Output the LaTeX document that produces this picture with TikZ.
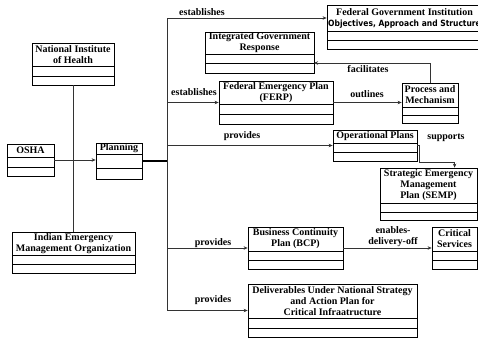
\documentclass[tikz,border=0pt]{standalone}
\usepackage{fontspec}
\setmainfont{Liberation Serif}
\newfontfamily\sansb{DejaVu Sans}[FakeStretch=0.88]
\usetikzlibrary{arrows.meta,calc,fit}
\tikzset{
  boxo/.style={draw=black, line width=0.8pt, inner sep=0pt},
  cline/.style={draw=black, line width=0.8pt},
  ttl/.style={font=\bfseries\fontsize{10}{11}\selectfont, align=center, inner sep=0pt},
  lbl/.style={font=\bfseries\fontsize{10}{11}\selectfont, align=center, inner sep=0pt},
  conn/.style={draw=black!80, line width=0.6pt},
  arr/.style={conn, -{Stealth[length=4pt,width=3.5pt]}},
}
\newcommand\ubox[8]{%
  \coordinate (#1-nw) at (#2,#3);
  \coordinate (#1-se) at (#4,#5);
  \node[boxo, fit=(#1-nw)(#1-se)] (#1) {};
  \draw[cline] (#2,#6) -- (#4,#6);
  \draw[cline] (#2,#7) -- (#4,#7) coordinate (#1-be);
  \node[ttl] (#1-t) at ($(#1-nw)!.5!(#4,#6)$) {#8};
}
\begin{document}
\begin{tikzpicture}[x=1pt,y=-1pt]
\useasboundingbox (0,0) rectangle (478,338);
\clip (0,0) rectangle (478,338);
\ubox{nih}{32}{43}{114}{85}{66}{76}{National Institute\\of Health}
\ubox{osha}{7}{144}{54}{176}{157}{167}{OSHA}
\ubox{plan}{96}{143}{142}{179}{154}{168}{Planning}
\ubox{iemo}{12}{232}{135}{273}{255}{264}{Indian Emergency\\Management Organization}
\ubox{fgi}{327}{5}{482}{49}{31}{40}{Federal Government Institution\\{\sansb\bfseries\fontsize{8.6}{11}\selectfont Objectives, Approach and Structure}}
\ubox{igr}{205}{32}{314}{73}{54}{63}{Integrated Government\\Response}
\ubox{ferp}{219}{81}{333}{124}{104}{114}{Federal Emergency Plan\\(FERP)}
\ubox{proc}{402}{83}{458}{123}{107}{115}{Process and\\Mechanism}
\ubox{op}{333}{130}{417}{161}{143}{152}{Operational Plans}
\ubox{semp}{380}{168}{477}{220}{203}{212}{Strategic Emergency\\Management\\Plan (SEMP)}
\ubox{bcp}{248}{227}{343}{269}{251}{260}{Business Continuity\\Plan (BCP)}
\ubox{crit}{432}{227}{477}{269}{251}{260}{Critical\\Services}
\ubox{del}{248}{284}{417}{337}{318}{328}{Deliverables Under National Strategy\\and Action Plan for\\Critical Infraatructure}

\draw[conn] (nih.south) -- (nih.south |- iemo.north);
\draw[arr] (osha.east) -- (osha.east -| plan.west);
\coordinate (tr) at (167,161);
\draw[line width=1.5pt] (plan.east) -- (plan.east -| tr);
\coordinate (ttop) at (tr |- fgi-t.west);
\coordinate (tbot) at (tr |- del.west);
\draw[conn] (ttop) -- (tbot);
\draw[arr] (ttop) -- (fgi.west |- ttop);
\draw[arr] (tr |- ferp.west) -- (ferp.west);
\draw[arr] (tr |- op.west) -- (op.west);
\draw[arr] (tr |- bcp.west) -- (bcp.west);
\draw[arr] (tbot) -- (del.west);
\draw[arr] (ferp.east) -- (ferp.east -| proc.west);
\draw[arr] (proc.north) |- (igr-be);
\draw[arr] (op.east) -- ++(2,0) |- ($(semp.north west)+(75,-5)$) -- ($(semp.north west)+(75,0)$);
\draw[arr] (bcp.east) -- (bcp.east -| crit.west);

\node[lbl] (l1) at (202,12) {establishes};
\node[lbl] (l2) at (194,92) {establishes};
\node[lbl] (l3) at (242,136) {provides};
\node[lbl] (l4) at (213,243) {provides};
\node[lbl] (l5) at (213,300) {provides};
\node[lbl] (l6) at (367,94) {outlines};
\node[lbl] (l7) at (368,69) {facilitates};
\node[lbl] (l8) at (446,138) {supports};
\node[lbl] (l9) at (393,237) {enables-\\delivery-off};
\end{tikzpicture}
\end{document}
